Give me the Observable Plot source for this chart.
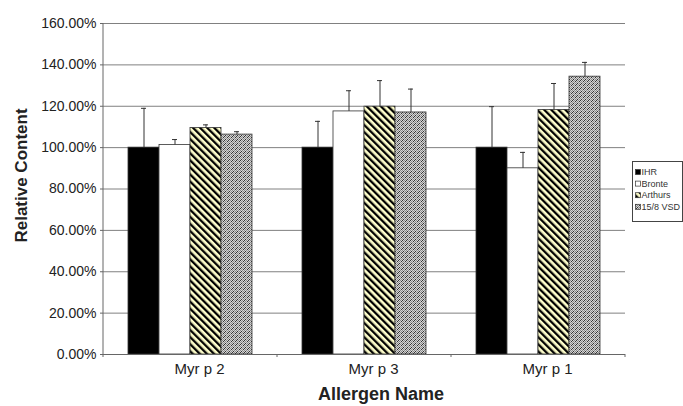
<!DOCTYPE html>
<html><head><meta charset="utf-8">
<script src="https://cdn.jsdelivr.net/npm/d3@7"></script>
<script src="https://cdn.jsdelivr.net/npm/@observablehq/plot@0.6"></script>
<style>body{margin:0;background:#fff} svg{display:block}</style>
</head><body><div id="chart"></div>
<script>
const allergens = ["Myr p 2", "Myr p 3", "Myr p 1"];
const cultivars = ["IHR", "Bronte", "Arthurs", "15/8 VSD"];
const ihr      = [100.0, 100.0, 100.0];
const bronte   = [101.3, 117.5, 90.0];
const arthurs  = [109.5, 119.8, 118.2];
const vsd      = [106.3, 117.0, 134.3];
const ihrHi     = [119.0, 112.7, 119.8];
const bronteHi  = [103.9, 127.5, 97.7];
const arthursHi = [111.0, 132.4, 131.0];
const vsdHi     = [107.7, 128.3, 141.2];
const yTicks = [0, 20, 40, 60, 80, 100, 120, 140, 160];
const fills = ["#000000", "#ffffff", "url(#hatch)", "url(#check)"];

const values = [ihr, bronte, arthurs, vsd];
const highs = [ihrHi, bronteHi, arthursHi, vsdHi];
const rows = [];
allergens.forEach((a, i) => cultivars.forEach((c, j) => {
  rows.push({allergen: a, cultivar: c, value: values[j][i], hi: highs[j][i]});
}));

const FONT = "'Liberation Sans', Arial, Helvetica, sans-serif";
const W = 683, H = 406;
const chart = Plot.plot({
  width: W, height: H,
  marginLeft: 103, marginRight: 58, marginTop: 23, marginBottom: 52,
  style: {fontFamily: FONT, color: "#222", background: "#fff"},
  fx: {domain: allergens, padding: 0},
  x: {domain: cultivars, paddingInner: 0, paddingOuter: 0.72, axis: null},
  y: {domain: [0, 160]},
  color: {type: "ordinal", domain: cultivars, range: fills},
  marks: [
    Plot.ruleY(yTicks.slice(1), {stroke: "#808080", strokeWidth: 1}),
    Plot.barY(rows, {fx: "allergen", x: "cultivar", y: "value", fill: "cultivar", stroke: "#333", strokeWidth: 0.8}),
    Plot.ruleX(rows, {fx: "allergen", x: "cultivar", y1: "value", y2: "hi", stroke: "#333", strokeWidth: 1}),
    Plot.tickY(rows, {fx: "allergen", x: "cultivar", y: "hi", stroke: "#333", strokeWidth: 1, insetLeft: 13, insetRight: 13}),
    Plot.ruleY([0], {stroke: "#666", strokeWidth: 1}),
    Plot.axisY({ticks: yTicks, tickFormat: d => d.toFixed(2) + "%", tickSize: 3, tickPadding: 4, fontSize: 14, stroke: "#666", label: null}),
    Plot.axisFx({anchor: "bottom", tickSize: 0, tickPadding: 9, fontSize: 15, dx: 9, label: null})
  ]
});
document.getElementById("chart").appendChild(chart);

const svg = d3.select(chart);
const defs = svg.insert("defs", ":first-child");
const hatch = defs.append("pattern").attr("id", "hatch").attr("patternUnits", "userSpaceOnUse")
  .attr("width", 5).attr("height", 5).attr("patternTransform", "rotate(-45)");
hatch.append("rect").attr("width", 5).attr("height", 5).attr("fill", "#ffffcc");
hatch.append("rect").attr("width", 2.3).attr("height", 5).attr("fill", "#000");
const check = defs.append("pattern").attr("id", "check").attr("patternUnits", "userSpaceOnUse")
  .attr("width", 4).attr("height", 4);
check.append("rect").attr("width", 4).attr("height", 4).attr("fill", "#d6d6d6");
[[0,0],[2,0],[1,1],[3,1],[0,2],[2,2],[1,3],[3,3]].forEach(([x, y], k) => {
  check.append("rect").attr("x", x).attr("y", y).attr("width", 1).attr("height", 1)
    .attr("fill", k % 3 === 0 ? "#333" : "#8a8a8a");
});

const fxs = chart.scale("fx"), ys = chart.scale("y");
const x0 = fxs.apply(allergens[0]);
const x1 = fxs.apply(allergens[allergens.length - 1]) + fxs.bandwidth;
const yTop = ys.apply(160), yBot = ys.apply(0);
svg.append("line").attr("x1", x0).attr("x2", x0).attr("y1", yTop).attr("y2", yBot)
  .attr("stroke", "#666");
allergens.concat([null]).forEach((a) => {
  const x = a === null ? x1 : fxs.apply(a);
  svg.append("line").attr("x1", x).attr("x2", x).attr("y1", yBot).attr("y2", yBot + 3).attr("stroke", "#666");
});

svg.append("text").text("Allergen Name")
  .attr("x", (x0 + x1) / 2 + 17).attr("y", 400).attr("text-anchor", "middle")
  .attr("font-family", FONT).attr("font-weight", "bold").attr("font-size", 18).attr("fill", "#222");
svg.append("text").text("Relative Content")
  .attr("transform", `translate(27,${(yTop + yBot) / 2 - 13}) rotate(-90)`)
  .attr("text-anchor", "middle")
  .attr("font-family", FONT).attr("font-weight", "bold").attr("font-size", 17).attr("fill", "#222");

const lg = svg.append("g");
lg.append("rect").attr("x", 632.5).attr("y", 161.5).attr("width", 50).attr("height", 60)
  .attr("fill", "#fff").attr("stroke", "#444").attr("stroke-width", 1);
cultivars.forEach((c, i) => {
  const cy = 172 + i * 11.6;
  lg.append("rect").attr("x", 635.5).attr("y", cy - 2.5).attr("width", 5).attr("height", 5)
    .attr("fill", fills[i]).attr("stroke", "#333").attr("stroke-width", 0.7);
  lg.append("text").text(c).attr("x", 641.5).attr("y", cy).attr("dy", "0.35em")
    .attr("text-anchor", "start")
    .attr("font-family", FONT).attr("font-size", 9).attr("fill", "#333");
});
</script>
</body></html>
